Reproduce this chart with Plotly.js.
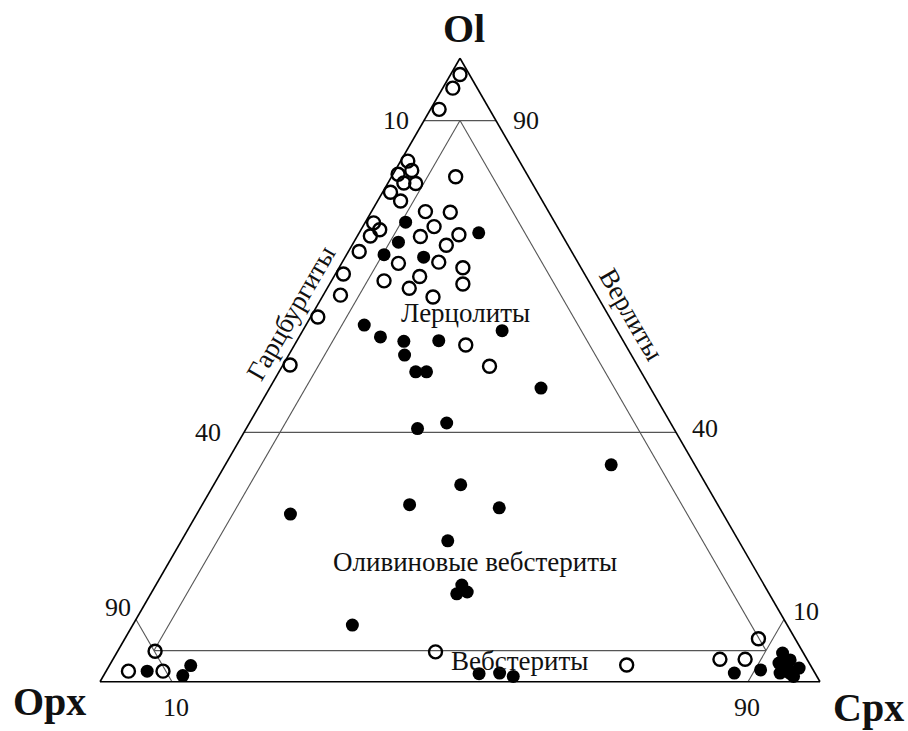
<!DOCTYPE html>
<html>
<head>
<meta charset="utf-8">
<script src="https://cdn.plot.ly/plotly-3.0.1.min.js"></script>
<style>html,body{margin:0;padding:0;background:#fff}#chart{width:908px;height:731px}</style>
</head>
<body>
<div id="chart"></div>
<script>
// Open circles (Ol, Opx, Cpx, %)
const openOl  = [97.4,95.2,91.8,83.5,82.0,81.4,80.0,79.9,78.5,77.1,81.0,75.4,75.3,73.6,72.5,71.5,73.0,71.4,71.7,70.0,69.0,67.1,67.3,66.4,65.0,64.3,63.8,63.1,61.7,65.4,62.0,58.5,50.8,54.0,50.6,4.9,1.7,1.7,4.8,2.7,6.9,3.6,3.6];
const openOpx = [1.3,3.4,7.0,15.5,15.7,17.9,17.8,16.2,20.4,19.7,10.1,17.1,13.7,25.2,24.9,26.7,17.1,19.8,14.3,16.9,29.5,25.0,19.3,16.4,23.1,28.4,17.7,25.5,22.9,33.5,35.6,40.5,48.2,22.2,20.6,89.9,95.2,90.4,51.0,25.5,5.1,12.1,8.6];
const openCpx = [1.3,1.4,1.2,1.0,2.3,0.7,2.2,3.9,1.1,3.2,8.9,7.5,11.0,1.2,2.6,1.8,9.9,8.8,14.0,13.1,1.5,7.9,13.4,17.2,11.9,7.3,18.5,11.4,15.4,1.1,2.4,1.0,1.0,23.8,28.8,5.2,3.1,7.9,44.2,71.8,88.0,84.3,87.8];
// Filled circles (Ol, Opx, Cpx, %)
const fillOl  = [73.7,72.0,70.5,68.5,68.1,57.2,55.3,54.6,54.7,56.3,52.4,49.7,49.7,47.1,40.6,41.5,34.8,31.6,28.4,27.9,26.9,22.6,15.5,14.1,14.4,9.1,1.7,1.0,2.6,1.3,1.4,0.85,1.4,1.9,4.6,3.0,3.5,1.4,1.4,2.2,0.85,2.5];
const fillOpx = [20.7,11.4,23.3,26.3,21.0,34.7,33.4,30.5,25.6,16.0,31.5,31.3,29.8,15.2,35.6,31.1,11.6,34.1,42.8,30.6,60.1,40.4,42.0,43.4,41.8,60.4,92.6,88.0,86.1,46.7,43.8,42.2,11.2,7.3,2.9,4.2,2.4,4.85,3.5,1.8,3.25,3.3];
const fillCpx = [5.6,16.6,6.2,5.2,10.9,8.1,11.3,14.9,19.7,27.7,16.1,19.0,20.5,37.7,23.8,27.4,53.6,34.3,28.8,41.5,13.0,37.0,42.5,42.5,43.8,30.5,5.7,11.0,11.3,52.0,54.8,57.0,87.4,90.8,92.5,92.8,94.1,93.75,95.1,96.0,95.9,94.2];
// Classification field boundaries (segments separated by null)
const fieldOl  = [90,90,null,40,40,null,90,5,null,90,5,null,5,5,null,10,0,null,10,0];
const fieldOpx = [10,0,null,60,0,null,5,90,null,5,5,null,90,5,null,90,90,null,0,10];
const fieldCpx = [0,10,null,0,60,null,5,5,null,5,90,null,5,90,null,0,10,null,90,90];
// Labels
const apexLabels = ["Ol","Opx","Cpx"];
const tickLabels = ["10","90","40","40","90","10","10","90"];
const fieldLabels = ["Лерцолиты","Гарцбургиты","Верлиты","Оливиновые вебстериты","Вебстериты"];

const W = 908, H = 731;
const serif = "Times New Roman, Liberation Serif, serif";
const px = x => x / W, py = y => 1 - y / H;

const traces = [
  {type:'scatterternary', mode:'lines', a:fieldOl, b:fieldOpx, c:fieldCpx,
   line:{color:'#555', width:1.1}, connectgaps:false, hoverinfo:'skip', showlegend:false},
  {type:'scatterternary', mode:'markers', a:fillOl, b:fillOpx, c:fillCpx,
   marker:{symbol:'circle', size:13, color:'#000', line:{width:0}}, showlegend:false, cliponaxis:false},
  {type:'scatterternary', mode:'markers', a:openOl, b:openOpx, c:openCpx,
   marker:{symbol:'circle-open', size:13, color:'#000', line:{width:2.4, color:'#000'}}, showlegend:false, cliponaxis:false}
];

const ax = {showgrid:false, showticklabels:false, ticks:'', linecolor:'#000', linewidth:1.6, title:{text:''}, min:0};

const ann = [];
function add(text, x, y, size, opts) {
  ann.push(Object.assign({text:text, x:px(x), y:py(y), xref:'paper', yref:'paper',
    showarrow:false, xanchor:'center', yanchor:'middle',
    font:{family:serif, size:size, color:'#111'}}, opts || {}));
}
add('<b>'+apexLabels[0]+'</b>', 464, 28, 40);
add('<b>'+apexLabels[1]+'</b>', 49, 701, 40);
add('<b>'+apexLabels[2]+'</b>', 868, 707, 40);
const tickPos = [[396,120],[526,120],[208,432],[705,428],[118,607],[806,611],[176,707],[747,707]];
tickLabels.forEach((t,i)=>add(t, tickPos[i][0], tickPos[i][1], 26));
add(fieldLabels[0], 465, 313, 27);
add(fieldLabels[1], 291, 313, 27, {textangle:-60});
add(fieldLabels[2], 631, 314, 27, {textangle:60});
add(fieldLabels[3], 475, 562, 27);
add(fieldLabels[4], 519, 661, 27);

const layout = {
  width:W, height:H, margin:{l:0,r:0,t:0,b:0}, paper_bgcolor:'#fff',
  showlegend:false,
  ternary:{
    sum:100, bgcolor:'rgba(0,0,0,0)',
    domain:{x:[100/W, 820/W], y:[1-682/H, 1-58/H]},
    aaxis:ax, baxis:ax, caxis:ax
  },
  annotations:ann
};
Plotly.newPlot('chart', traces, layout, {displayModeBar:false, staticPlot:true});
</script>
</body>
</html>
